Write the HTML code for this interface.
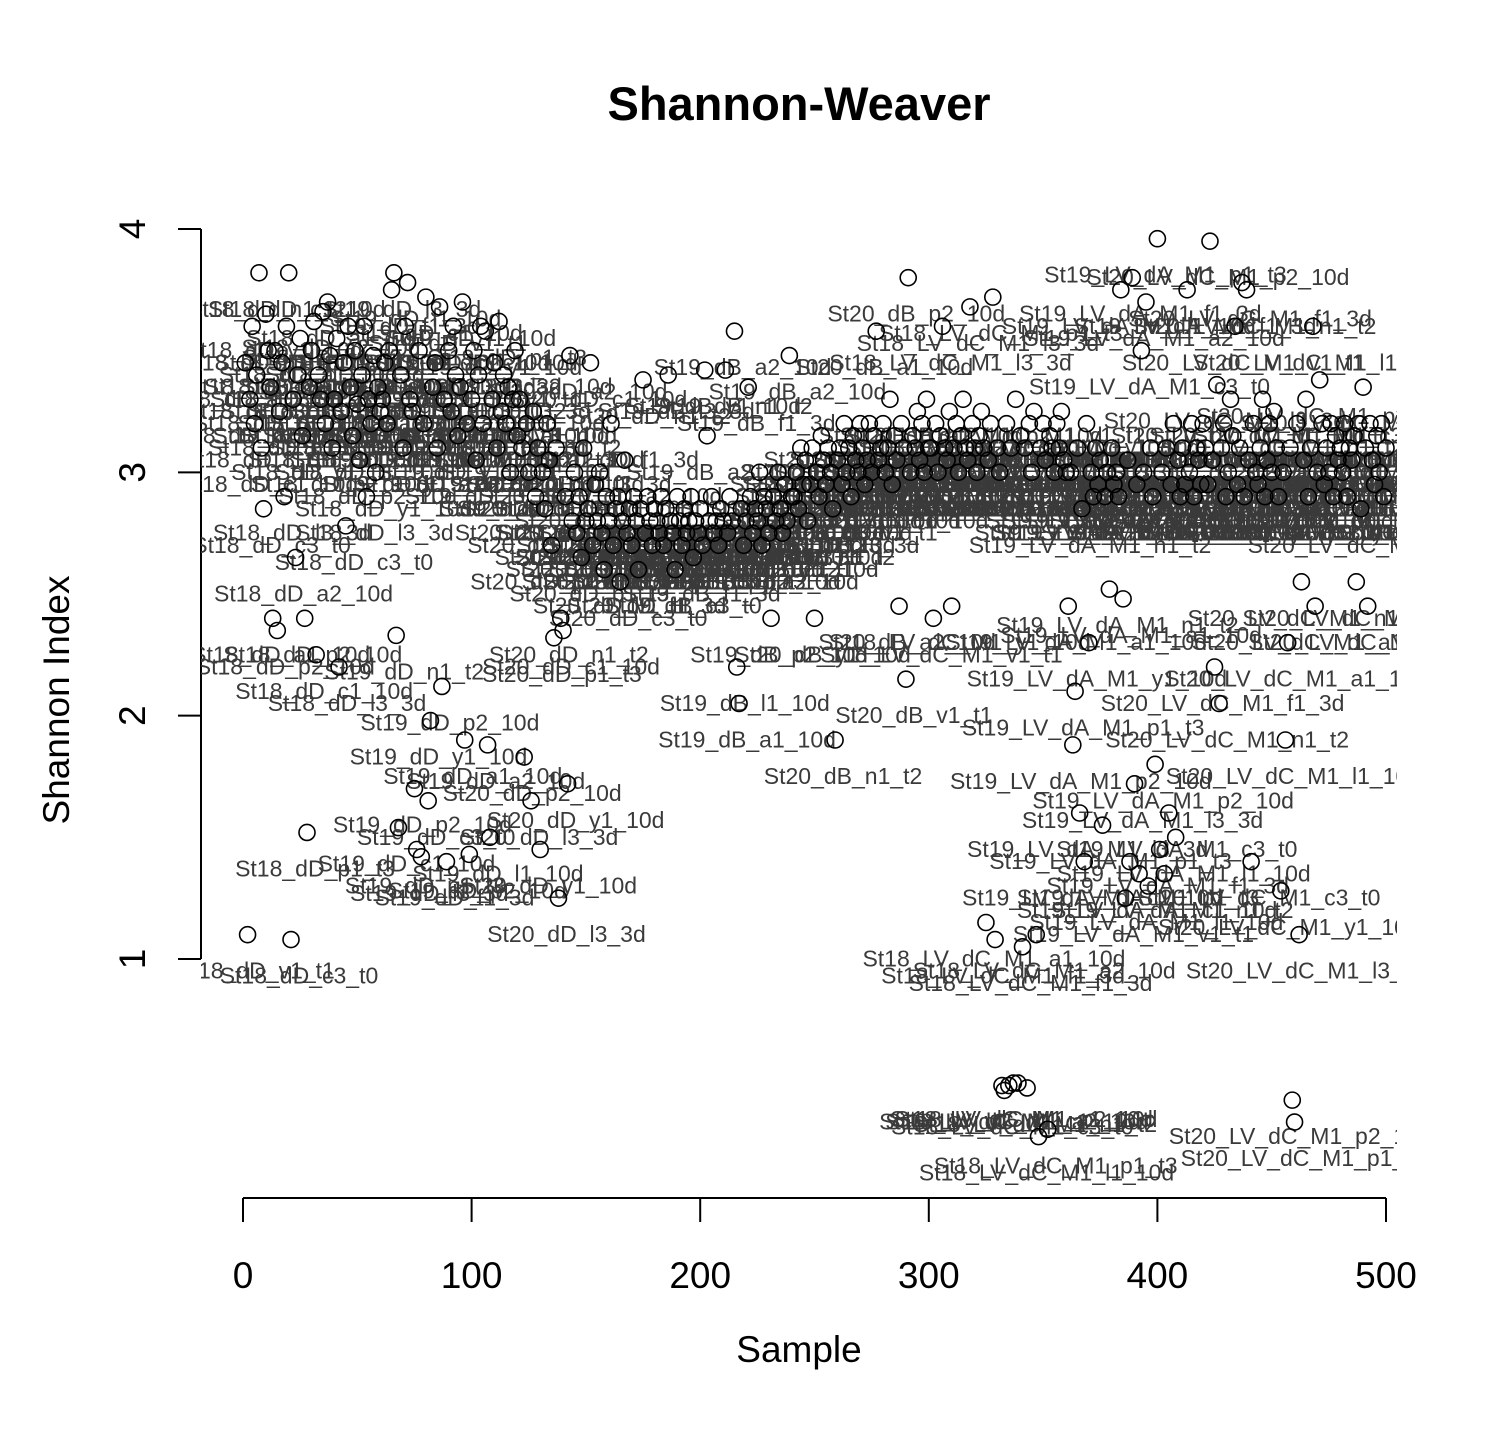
<!DOCTYPE html>
<html><head><meta charset="utf-8"><style>
html,body{margin:0;padding:0;background:#fff;}
svg text{font-family:"Liberation Sans",Arial,sans-serif;}
</style></head><body>
<svg id="chart" width="1500" height="1450" viewBox="0 0 1500 1450" xmlns="http://www.w3.org/2000/svg">
<defs><clipPath id="plotclip"><rect x="201" y="160" width="1196" height="1040"/></clipPath></defs>
<text x="799" y="120" font-size="47" font-weight="bold" text-anchor="middle">Shannon-Weaver</text>
<text x="799" y="1362" font-size="37" text-anchor="middle">Sample</text>
<text transform="translate(69,700) rotate(-90)" font-size="37" text-anchor="middle">Shannon Index</text>
<g id="axes"></g>
<g id="labels" clip-path="url(#plotclip)"></g>
<g id="points" clip-path="url(#plotclip)"></g>
</svg>
<script>
const shannonValues = [
3.45,1.1,3.3,3.6,3.2,3.4,3.82,3.1,2.85,3.65,
3.5,3.35,2.4,3.5,2.35,3.25,3.45,2.9,3.6,3.82,
1.08,3.3,2.65,3.4,3.55,3.15,2.4,1.52,3.35,3.5,
3.62,2.25,3.4,3.3,3.66,3.2,3.7,3.48,3.1,3.3,
3.55,2.2,3.25,3.45,2.78,3.6,3.35,3.15,3.5,3.28,
3.05,3.4,3.6,2.9,3.3,3.2,3.48,3.0,3.35,3.25,
3.3,3.45,3.2,3.5,3.75,3.82,2.33,1.54,3.4,3.1,
3.6,3.78,3.3,3.25,1.7,1.45,3.5,1.42,3.2,3.72,
1.65,1.98,3.35,3.45,3.1,3.68,2.12,3.3,1.4,3.5,
3.25,3.6,3.4,3.15,3.35,3.7,1.9,3.2,1.43,3.3,
3.5,3.05,3.4,3.6,3.2,3.58,1.88,1.5,3.3,3.45,
3.1,3.62,3.25,3.4,3.2,3.35,3.0,3.3,3.5,3.15,
3.3,3.1,1.83,3.2,3.0,1.65,3.25,2.9,3.1,1.45,
3.0,2.85,3.2,3.05,2.7,2.32,3.1,1.25,2.4,2.35,
2.9,1.72,3.48,2.8,3.0,2.75,2.9,2.65,3.1,2.8,
2.85,3.45,2.7,2.95,2.8,3.0,2.75,2.6,2.9,2.8,
3.2,2.7,2.85,2.9,2.55,2.8,3.05,2.75,2.85,2.7,
2.9,2.8,2.6,2.85,3.38,2.75,2.9,2.8,2.7,2.85,
2.8,2.75,2.9,2.7,2.85,3.4,2.8,2.75,2.6,2.9,
2.8,2.7,2.85,2.75,2.8,2.9,2.65,2.8,2.75,2.85,
2.7,3.42,3.15,2.8,2.9,2.75,2.8,2.7,2.85,2.8,
3.42,2.75,2.9,2.8,3.58,2.2,2.05,2.85,2.7,2.8,
3.35,2.9,2.75,2.85,2.8,3.0,2.7,2.9,2.85,2.75,
2.4,2.9,2.8,3.0,2.85,2.75,2.95,2.8,3.48,2.9,
2.9,3.0,2.85,3.1,2.95,3.05,2.8,2.95,3.1,2.4,
3.0,2.9,3.15,3.05,2.95,3.1,3.0,2.85,1.9,3.05,
3.1,2.95,3.2,3.0,3.1,2.9,3.15,3.05,3.0,3.2,
3.1,2.95,3.05,3.2,3.0,3.15,3.58,3.05,3.1,3.2,
3.0,3.1,3.3,2.95,3.15,3.05,2.45,3.2,3.1,2.15,
3.8,3.0,3.15,3.1,3.25,3.05,3.2,3.0,3.3,3.1,
3.1,2.4,3.2,3.0,3.15,3.6,3.1,3.05,3.25,2.45,
3.1,3.2,3.0,3.15,3.3,3.1,3.05,3.68,3.2,3.1,
3.0,3.15,3.25,3.1,1.15,3.05,3.2,3.72,1.08,3.1,
3.0,0.48,0.46,3.2,0.48,3.1,0.49,3.3,0.49,3.15,
1.05,3.1,0.47,3.2,3.0,3.25,1.1,0.27,3.1,3.2,
3.05,0.3,3.15,3.1,3.0,3.2,3.1,3.25,3.05,3.0,
2.45,3.0,1.88,2.1,3.1,1.6,2.85,1.4,3.2,2.3,
3.0,2.9,3.1,2.95,3.05,1.55,2.9,3.0,2.52,3.1,
2.95,3.0,2.9,3.75,2.48,1.25,3.05,1.4,3.8,1.72,
2.95,1.35,3.5,3.0,3.7,1.3,3.1,2.9,1.8,3.96,
1.45,3.0,1.35,3.1,1.6,2.95,3.2,1.5,3.05,2.9,
3.1,2.95,3.75,3.0,3.2,2.9,3.1,3.05,2.95,3.2,
3.1,2.95,3.95,3.05,2.2,3.36,2.05,3.1,3.2,2.9,
3.0,3.3,3.15,3.6,2.95,3.1,3.78,2.9,3.75,3.05,
1.4,3.2,3.0,2.95,3.1,3.3,2.9,3.05,3.2,3.0,
3.25,3.1,2.9,1.28,3.0,1.9,2.3,3.1,0.42,0.33,
3.2,1.1,2.55,3.05,3.3,2.9,3.1,3.6,2.45,3.0,
3.38,3.2,2.95,3.1,3.0,3.2,2.9,3.15,3.05,3.1,
3.0,3.2,2.9,3.1,3.05,3.15,2.55,3.2,2.85,3.35,
3.1,2.45,3.2,3.05,2.95,3.15,3.0,3.2,2.9,3.1];
const xTicks = [0,100,200,300,400,500];
const yTicks = [1,2,3,4];
const groupPrefixes = ["St18_dD_","St19_dD_","St20_dD_","St19_dB_","St20_dB_","St18_LV_dC_M1_","St19_LV_dA_M1_","St20_LV_dC_M1_"];
const groupStarts = [0,60,120,180,240,300,360,420];
const sampleTags = ["a1_10d","c1_10d","p2_10d","y1_10d","f1_3d","l1_10d","n1_t2","v1_t1","c3_t0","p1_t3","a2_10d","l3_3d"];

const NS="http://www.w3.org/2000/svg";
const xs = v => 243 + v*(1386-243)/500;
const ys = v => 959 - (v-1)*(959-229)/3;
function mk(tag, attrs, parent){const e=document.createElementNS(NS,tag);for(const k in attrs)e.setAttribute(k,attrs[k]);parent.appendChild(e);return e;}
const axes=document.getElementById('axes');
let e=mk('line',{x1:201,y1:ys(1),x2:201,y2:ys(4),stroke:'#000','stroke-width':2},axes);


yTicks.forEach(t=>{
  let l=mk('line',{x1:178,y1:ys(t),x2:201,y2:ys(t),stroke:'#000','stroke-width':2},axes);
  
  
  let tx=mk('text',{transform:`translate(145,${ys(t)}) rotate(-90)`,'font-size':37,'text-anchor':'middle'},axes);
  tx.textContent=t;
  
  
});
e=mk('line',{x1:xs(0),y1:1198,x2:xs(500),y2:1198,stroke:'#000','stroke-width':2},axes);


xTicks.forEach(t=>{
  let l=mk('line',{x1:xs(t),y1:1198,x2:xs(t),y2:1222,stroke:'#000','stroke-width':2},axes);
  
  
  let tx=mk('text',{x:xs(t),y:1288,'font-size':37,'text-anchor':'middle'},axes);
  tx.textContent=t;
  
  
});
const lg=document.getElementById('labels'), pg=document.getElementById('points');
shannonValues.forEach((v,i)=>{
  let g=0; for(let k=0;k<groupStarts.length;k++) if(i>=groupStarts[k]) g=k;
  const name=groupPrefixes[g]+sampleTags[(i*7)%sampleTags.length];
  const x=xs(i+1), y=ys(v);
  const t=mk('text',{x:x+8,y:y+44,'font-size':23,'text-anchor':'middle',fill:'#3a3a3a'},lg);
  t.textContent=name;
  
  
  const c=mk('circle',{cx:x,cy:y,r:8,fill:'none',stroke:'#000','stroke-width':1.6},pg);
  
  
});
</script>
</body></html>
